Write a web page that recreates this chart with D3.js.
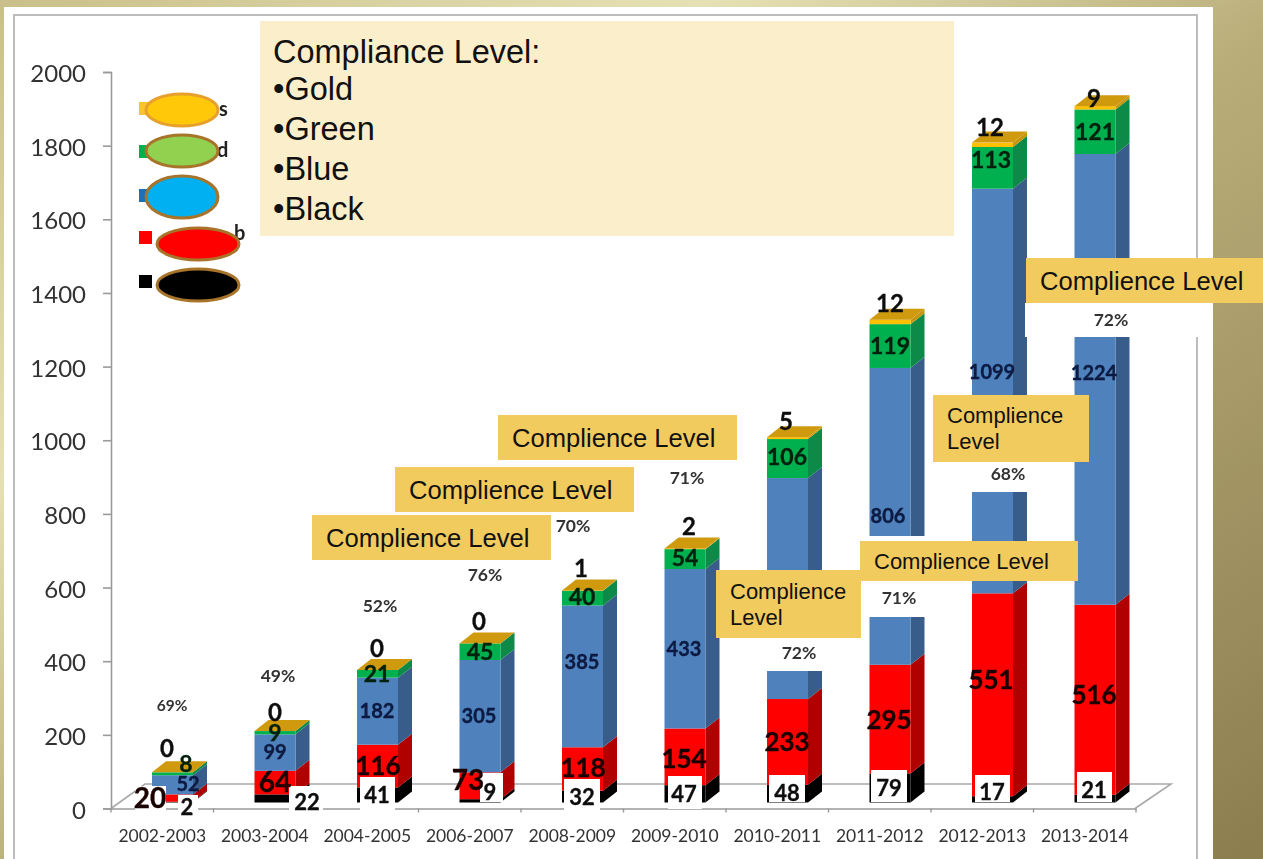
<!DOCTYPE html>
<html><head><meta charset="utf-8">
<script src="https://cdn.jsdelivr.net/npm/d3@7/dist/d3.min.js"></script>
<style>
html,body{margin:0;padding:0;width:1263px;height:859px;overflow:hidden;background:#a89c68}
svg{display:block}
</style></head><body>
<svg id="c" width="1263" height="859"></svg>
<script>
// ---- data ----
const categories = ["2002-2003","2003-2004","2004-2005","2006-2007","2008-2009","2009-2010","2010-2011","2011-2012","2012-2013","2013-2014"];
const blackVals = [2,22,41,9,32,47,48,79,17,21];
const redVals   = [20,64,116,73,118,154,233,295,551,516];
const blueVals  = [52,99,182,305,385,433,600,806,1099,1224];
const greenVals = [8,9,21,45,40,54,106,119,113,121];
const goldVals  = [0,0,0,0,1,2,5,12,12,9];
const pctLabels = ["69%","49%","52%","76%","70%","71%","72%","71%","68%","72%"];
const yTicks = [0,200,400,600,800,1000,1200,1400,1600,1800,2000];
const titleLines = ["Compliance Level:","•Gold","•Green","•Blue","•Black"];
const calloutText = "Complience Level";
const legendFragments = ["s","d","b"];

// ---- hand-placed layout (annotations, as in the reference) ----
const labelPos = {
  black:[[187,807],[307,802],[377,795],[490,792],[582,797],[684,794],[787,793],[889,788],[992,792],[1094,790]],
  red:[[150,798],[275,782],[378,766],[468,780],[583,768],[684,759],[787,742],[889,720],[991,680],[1094,695]],
  blue:[[188,784],[275,752],[377,711],[479,716],[582,662],[684,649],null,[888,516],[992,372],[1094,373]],
  green:[[186,764],[275,733],[377,674],[480,652],[582,597],[685,558],[787,457],[890,346],[991,160],[1095,132]],
  gold:[[167,748],[275,712],[377,648],[479,621],[581,568],[689,526],[786,421],[890,303],[990,127],[1094,98]]
};
const pctPos = [[172,705],[278,676],[380,606],[485,575],[573,526],[687,478],[799,653],[899,598],[1008,474],[1111,320]];
const whiteBoxes = [
 [135,786,31,28],[178,795,20,20],[289,786,34,30],[360,777,35,36],[480,773,23,29],[564,779,36,36],[668,776,34,33],[769,775,36,27],[871,770,36,32],[975,775,35,27],[1077,772,35,30],
 [722,638,139,33],[856,536,104,81],[965,395,95,97],[1025,303,174,34]
];
const callouts = [
 [312,515,239,45,25.6,[calloutText]],
 [395,467,239,45,25.6,[calloutText]],
 [498,415,239,45,25.6,[calloutText]],
 [716,570,145,68,22,["Complience","Level"]],
 [860,541,218,40,22,[calloutText]],
 [933,395,156,67,22,["Complience","Level"]],
 [1026,258,237,45,25.6,[calloutText]]
];
const legend = [
 {c:"#f9c52c",sy:102,ex:182,ey:110,rx:36,ry:16,f:"#ffc90a",s:"#e8a02c"},
 {c:"#00b050",sy:145,ex:182,ey:151,rx:36,ry:16,f:"#92d050",s:"#a8742a"},
 {c:"#1f6fb8",sy:189,ex:182,ey:197,rx:36,ry:21,f:"#00b0f0",s:"#a8742a"},
 {c:"#ff0000",sy:231,ex:198,ey:244,rx:41,ry:16,f:"#ff0000",s:"#a8742a"},
 {c:"#000000",sy:275,ex:198,ey:285,rx:41,ry:16,f:"#000000",s:"#a8742a"}
];
const fragmentPos = [[219,116],[217,157],[234,240]];

const svg = d3.select("#c");
const defs = svg.append("defs");
const bg = defs.append("linearGradient").attr("id","bg").attr("x1",0).attr("y1",0).attr("x2",1).attr("y2",1);
[[0,"#c9bf8a"],[0.28,"#e6e1b4"],[0.52,"#b9ae7a"],[1,"#8c7d4f"]].forEach(s=>bg.append("stop").attr("offset",s[0]).attr("stop-color",s[1]));
defs.append("filter").attr("id","soft").attr("x","-2%").attr("y","-2%").attr("width","104%").attr("height","104%")
    .append("feGaussianBlur").attr("stdDeviation",0.6);

svg.append("rect").attr("width",1263).attr("height",859).attr("fill","url(#bg)");
svg.append("rect").attr("x",4).attr("y",7).attr("width",1209).attr("height",852).attr("fill","#fff");

const g = svg.append("g").attr("filter","url(#soft)");
// frame
g.append("path").attr("d","M14,859V15H1197V859").attr("fill","none").attr("stroke","#bdbdbd").attr("stroke-width",2);

// scales
const y = d3.scaleLinear().domain([0,2000]).range([808.5,72]);
const x = d3.scaleBand().domain(categories).range([111,1136]);
const barW = 41, depX = 14, depY = 11, baseLift = 6, barOff = 41;

// floor
const floorC = "#a9a9a9";
g.append("path").attr("d",`M111,${y(0)}L145,784H1171L1135,${y(0)}`).attr("fill","none").attr("stroke",floorC).attr("stroke-width",1.6);

// axes
const yAxis = d3.axisLeft(y).tickValues(yTicks).tickSize(8).tickPadding(17).tickFormat(d3.format("d"));
const ya = g.append("g").attr("transform","translate(111,0)").call(yAxis);
ya.selectAll("path,line").attr("stroke","#9a9a9a").attr("stroke-width",1.6);
ya.selectAll("text").attr("font-family","Lato").attr("font-size",24).attr("fill","#333").attr("dy","0.4em");
const xAxis = d3.axisBottom(x).tickSize(0).tickPadding(21);
const xa = g.append("g").attr("transform",`translate(0,${y(0)})`).call(xAxis);
xa.selectAll("path").attr("stroke","#9a9a9a").attr("stroke-width",1.6);
xa.selectAll("text").attr("font-family","Lato").attr("font-size",17.5).attr("fill","#333");
g.append("g").selectAll("line").data(categories.concat([null])).join("line")
  .attr("x1",(d,i)=>111+i*x.step()).attr("x2",(d,i)=>111+i*x.step())
  .attr("y1",y(0)).attr("y2",y(0)+4).attr("stroke","#9a9a9a").attr("stroke-width",1.4);

// stacked bars
const keys = ["black","red","blue","green","gold"];
const series = {black:blackVals,red:redVals,blue:blueVals,green:greenVals,gold:goldVals};
const rows = categories.map((c,i)=>{const r={cat:c};keys.forEach(k=>r[k]=series[k][i]);return r;});
const stack = d3.stack().keys(keys)(rows);
const front = {black:"#000",red:"#ff0000",blue:"#4f81bd",green:"#00b050",gold:"#ffc000"};
const side  = {black:"#000",red:"#b00000",blue:"#385d8a",green:"#0a8a47",gold:"#c8960c"};
const bx = d=>x(d.data.cat)+barOff;
const by = v=>y(v)-baseLift;

stack.forEach(s=>{
  const grp = g.append("g").attr("class","s-"+s.key);
  grp.selectAll(".side").data(s).join("path").attr("class","side").attr("fill",side[s.key])
     .attr("d",d=>{const r=bx(d)+barW;return `M${r},${by(d[1])}L${r+depX},${by(d[1])-depY}V${by(d[0])-depY}L${r},${by(d[0])}Z`;});
  grp.selectAll(".front").data(s).join("rect").attr("class","front").attr("fill",front[s.key])
     .attr("x",bx).attr("width",barW).attr("y",d=>by(d[1])).attr("height",d=>Math.max(0,by(d[0])-by(d[1])));
});
// top cap
const topS = stack[stack.length-1];
g.append("g").selectAll("path").data(topS).join("path").attr("fill","#cf9a10")
  .attr("d",d=>{const l=bx(d),t=by(d[1]);return `M${l},${t}L${l+depX},${t-depY}H${l+barW+depX}L${l+barW},${t}Z`;});

// white data-label boxes and cover-ups
g.append("g").selectAll("rect").data(whiteBoxes).join("rect").attr("fill","#fff")
  .attr("x",d=>d[0]).attr("y",d=>d[1]).attr("width",d=>d[2]).attr("height",d=>d[3]);

// labels
const fontSize = {black:22,red:26,blue:20,green:23,gold:24};
const fontFill = {black:"#111",red:"#1a0505",blue:"#0b1a40",green:"#04200f",gold:"#111"};
keys.forEach(k=>{
  g.append("g").selectAll("text").data(series[k].map((v,i)=>({v,p:labelPos[k][i],i})).filter(d=>d.p)).join("text")
   .attr("x",d=>d.p[0]).attr("y",d=>d.p[1]).attr("dy","0.36em").attr("text-anchor","middle")
   .attr("font-family","Lato").attr("font-weight",700)
   .attr("font-size",d=>(k==="red"&&d.i<4&&d.i!==2)?28:fontSize[k])
   .attr("fill",fontFill[k]).attr("stroke",fontFill[k]).attr("stroke-width",0.35).text(d=>d.v);
});
g.append("g").selectAll("text").data(pctLabels).join("text")
  .attr("x",(d,i)=>pctPos[i][0]).attr("y",(d,i)=>pctPos[i][1]).attr("dy","0.36em").attr("text-anchor","middle")
  .attr("font-family","Lato").attr("font-weight",700).attr("font-size",(d,i)=>i===0?15.5:17.5).attr("fill","#333").text(d=>d);

// legend swatches and the text slivers that show past the ovals
g.append("g").selectAll("rect").data(legend).join("rect")
  .attr("x",139).attr("y",d=>d.sy).attr("width",13).attr("height",13).attr("fill",d=>d.c);
g.append("g").selectAll("text").data(legendFragments).join("text")
  .attr("x",(d,i)=>fragmentPos[i][0]).attr("y",(d,i)=>fragmentPos[i][1])
  .attr("font-family","Lato").attr("font-weight",700).attr("font-size",20).attr("fill","#222").text(d=>d);
svg.append("g").selectAll("ellipse").data(legend).join("ellipse")
  .attr("cx",d=>d.ex).attr("cy",d=>d.ey).attr("rx",d=>d.rx).attr("ry",d=>d.ry)
  .attr("fill",d=>d.f).attr("stroke",d=>d.s).attr("stroke-width",3);

// title box
const titleY = [63,100,140,180,220];
svg.append("rect").attr("x",260).attr("y",21).attr("width",694).attr("height",215).attr("fill","#fbeecb");
svg.append("g").selectAll("text").data(titleLines).join("text")
  .attr("x",273).attr("y",(d,i)=>titleY[i]).attr("font-family","'Liberation Sans'").attr("font-size",32.5).attr("fill","#111").text(d=>d);

// callouts
const cg = svg.append("g").selectAll("g").data(callouts).join("g");
cg.append("rect").attr("x",d=>d[0]).attr("y",d=>d[1]).attr("width",d=>d[2]).attr("height",d=>d[3]).attr("fill","#f2cb5f");
cg.each(function(d){
  const n=d[5].length, lh=26;
  d3.select(this).selectAll("text").data(d[5]).join("text")
    .attr("x",d[0]+14).attr("y",(t,i)=>d[1]+d[3]/2+(i-(n-1)/2)*lh)
    .attr("dy","0.36em").attr("font-family","'Liberation Sans'").attr("font-size",d[4]).attr("fill","#111").text(t=>t);
});
</script></body></html>
